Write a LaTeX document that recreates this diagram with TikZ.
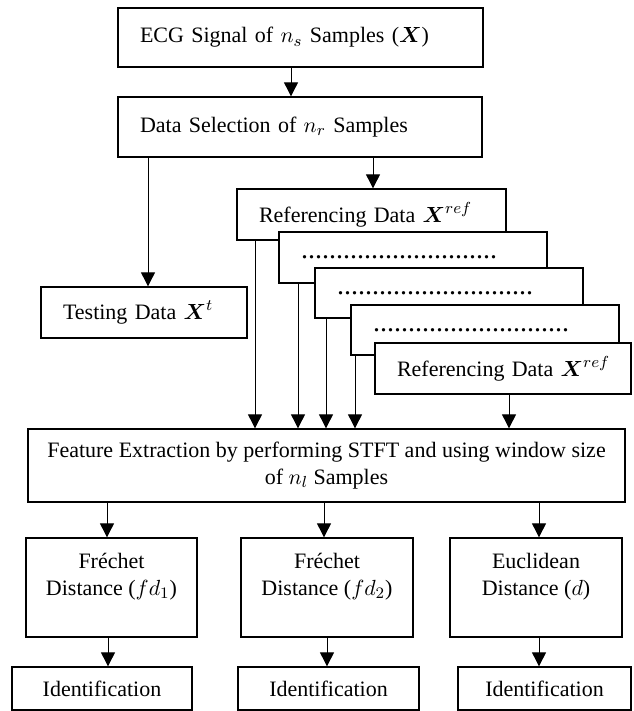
\documentclass[tikz,border=0pt]{standalone}
\usepackage{amsmath}
\usepackage{fontspec}
\setmainfont{Liberation Serif}
\usetikzlibrary{arrows.meta}

\begin{document}
\begin{tikzpicture}[x=0.5pt,y=-0.5pt,->,>={Triangle[width=7pt,length=7pt]},line width=0.45pt,
    font=\fontsize{11}{13.5}\selectfont,
    flow node/.style={draw,fill=white,line width=0.65pt,inner sep=0pt,align=center},
    data node/.style={flow node,inner xsep=11pt,align=left,text width=#1}]
  \useasboundingbox (0,0) rectangle (633,711);
  % selection part
  \node[data node=160.5pt,minimum height=29.5pt] (1) at (300.5,37.5) {ECG Signal of $n_s$ Samples ($\boldsymbol{X}$)};
  \node[data node=160pt,minimum height=30pt] (2) at (300,127) {Data Selection of $n_r$ Samples};
  \node[data node=81pt,minimum height=25.5pt] (3) at (144,312.5) {Testing Data $\boldsymbol{X}^t$};
  % stack of referencing data
  \node[data node=112.5pt,minimum height=25.5pt] (4) at (371.5,214.5) {Referencing Data $\boldsymbol{X}^{ref}$};
  \node[data node=112pt,minimum height=25.5pt] (5) at (413,257.5) {\fontsize{14}{14}\selectfont ............................};
  \node[data node=112pt,minimum height=25pt] (6) at (449,293) {\fontsize{14}{14}\selectfont ............................};
  \node[data node=112pt,minimum height=25pt] (7) at (485,330) {\fontsize{14}{14}\selectfont ............................};
  \node[data node=106pt,minimum height=25.5pt] (8) at (503,368.5) {\mbox{Referencing Data $\boldsymbol{X}^{ref}$}};
  % features and distances
  \node[flow node,minimum width=298.5pt,minimum height=36.5pt] (9) at (326.5,465.5) {Feature Extraction by performing STFT and using window size\\of $n_l$ Samples};
  \node[flow node,minimum width=85.5pt,minimum height=49.5pt] (10) at (111.5,587.5) {Fréchet\\Distance ($fd_1$)\\\mbox{}};
  \node[flow node,minimum width=86pt,minimum height=49.5pt] (11) at (327,587.5) {Fréchet\\Distance ($fd_2$)\\\mbox{}};
  \node[flow node,minimum width=86pt,minimum height=49.5pt] (12) at (536,587.5) {Euclidean\\Distance ($d$)\\\mbox{}};
  \node[flow node,minimum width=90pt,minimum height=21.5pt] (13) at (102,688.5) {Identification};
  \node[flow node,minimum width=90.5pt,minimum height=21.5pt] (14) at (328.5,688.5) {Identification};
  \node[flow node,minimum width=86.5pt,minimum height=21.5pt] (15) at (544.5,688.5) {Identification};
  \path (1.south -| 291,0) edge (2.north -| 291,0)
        (2.south -| 148,0) edge (3.north -| 148,0)
        (2.south -| 373,0) edge (4.north -| 373,0)
        (4.south -| 255,0) edge (9.north -| 255,0)
        (5.south -| 298,0) edge (9.north -| 298,0)
        (6.south -| 326,0) edge (9.north -| 326,0)
        (7.south -| 355,0) edge (9.north -| 355,0)
        (8.south -| 509,0) edge (9.north -| 509,0)
        (9.south -| 107,0) edge (10.north -| 107,0)
        (9.south -| 324,0) edge (11.north -| 324,0)
        (9.south -| 539,0) edge (12.north -| 539,0)
        (10.south -| 108,0) edge (13.north -| 108,0)
        (11.south -| 327,0) edge (14.north -| 327,0)
        (12.south -| 539,0) edge (15.north -| 539,0);
\end{tikzpicture}
\end{document}
